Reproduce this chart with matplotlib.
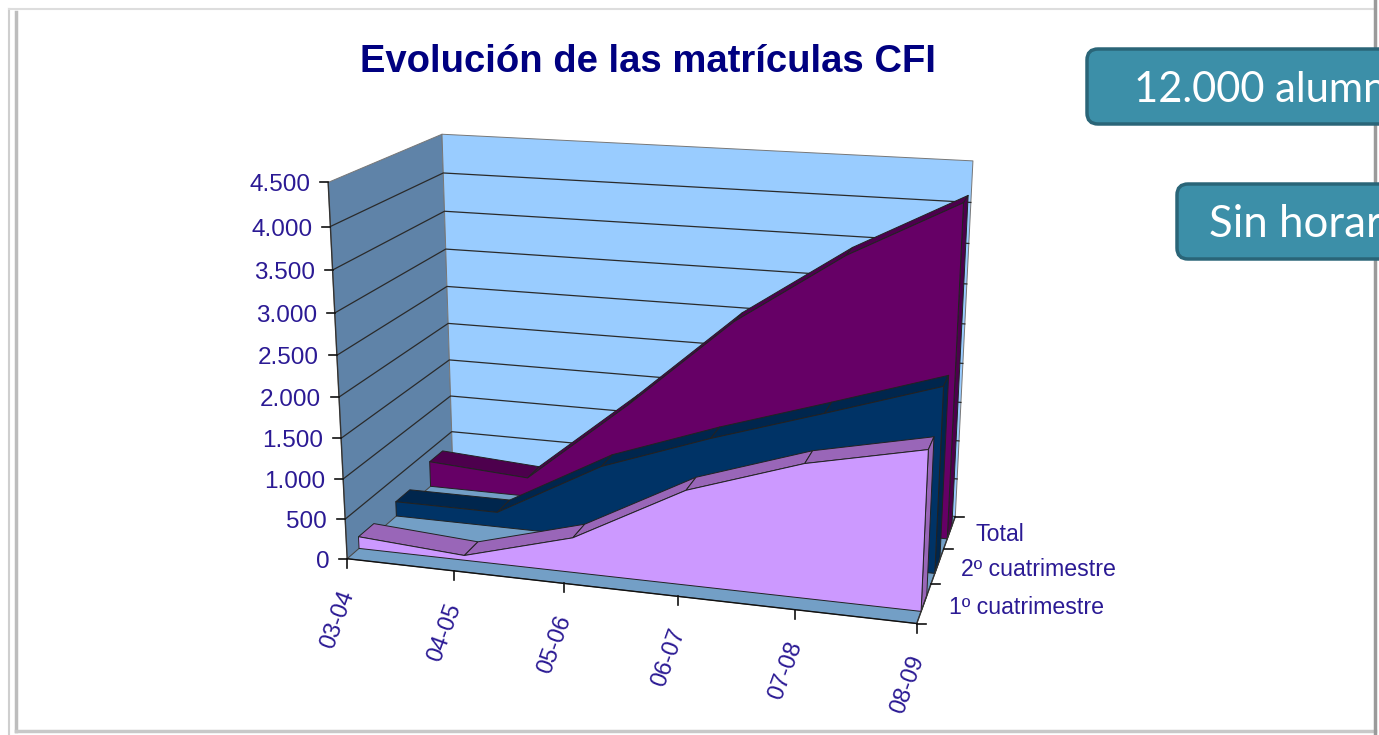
# plot.py - "Evolucion de las matriculas CFI", 3D area chart drawn on a flat axes
import numpy as np
import matplotlib
matplotlib.use("Agg")
import matplotlib.pyplot as plt
from matplotlib.patches import FancyBboxPatch, Polygon

years = ["03-04", "04-05", "05-06", "06-07", "07-08", "08-09"]
series_names = ["1º cuatrimestre", "2º cuatrimestre", "Total"]
primero = [150, 60, 430, 1150, 1600, 1890]
segundo = [190, 190, 920, 1400, 1830, 2270]
total = [340, 250, 1350, 2530, 3440, 4150]
z_ticks = [0, 500, 1000, 1500, 2000, 2500, 3000, 3500, 4000, 4500]
z_labels = ["0", "500", "1.000", "1.500", "2.000", "2.500", "3.000", "3.500", "4.000", "4.500"]

TITLE = "Evolución de las matrículas CFI"
BOX1 = "12.000 alumn"
BOX2 = "Sin horar"

TXT = "#2b1a94"
ZMAX = 4500.0
NX = len(years) - 1
ND = len(series_names)

# camera: box corners (x, depth, z) -> pixels, fitted once
corners = [
    ((0, 0, 0), (347, 558)),
    ((0, 0, 4500), (328, 183)),
    ((0, 0, 2500), (337, 355)),
    ((0, 3, 4500), (442, 134)),
    ((0, 3, 0), (453, 468)),
    ((0, 3, 2500), (447, 286)),
    ((5, 0, 0), (917, 624)),
    ((5, 3, 4500), (973, 161)),
    ((5, 3, 0), (955, 516)),
]
A, b = [], []
for (x, d, z), (u, v) in corners:
    X, Y, Z = x / NX, d / ND, z / ZMAX
    A.append([X, Y, Z, 1, 0, 0, 0, 0, -u * X, -u * Y, -u * Z])
    A.append([0, 0, 0, 0, X, Y, Z, 1, -v * X, -v * Y, -v * Z])
    b += [u, v]
cam = np.linalg.lstsq(np.array(A, float), np.array(b, float), rcond=None)[0]
cam = np.append(cam, 1.0).reshape(3, 4)


def proj(x, d, z):
    w = cam @ np.array([x / NX, d / ND, z / ZMAX, 1.0])
    return w[0] / w[2], w[1] / w[2]


fig = plt.figure(figsize=(13.79, 7.35), dpi=100)
ax = fig.add_axes([0, 0, 1, 1])
ax.set_xlim(0, 1379)
ax.set_ylim(735, 0)
ax.axis("off")


def face(pts, color, edge="#222222", lw=0.7, zorder=3):
    ax.add_patch(Polygon([proj(*p) for p in pts], closed=True, facecolor=color,
                         edgecolor=edge, linewidth=lw, joinstyle="round", zorder=zorder))


# slide frame
ax.plot([9, 9], [9, 735], color="#cfcfcf", lw=1.5)
ax.plot([16, 16], [12, 731], color="#bdbdbd", lw=2.5)
ax.plot([9, 1375], [9, 9], color="#dddddd", lw=1.5)
ax.plot([16, 1375], [731, 731], color="#c8c8c8", lw=2.5)
ax.plot([1375, 1375], [0, 735], color="#9a9a9a", lw=2.5)

# walls and floor
face([(0, 0, 0), (0, 3, 0), (0, 3, ZMAX), (0, 0, ZMAX)], "#5f83a8", "#777777", zorder=1)
face([(0, 3, 0), (5, 3, 0), (5, 3, ZMAX), (0, 3, ZMAX)], "#99ccff", "#777777", zorder=1)
face([(0, 0, 0), (5, 0, 0), (5, 3, 0), (0, 3, 0)], "#739fc6", "#444444", zorder=1)

# gridlines
for z in z_ticks[1:-1]:
    ax.plot(*zip(proj(0, 0, z), proj(0, 3, z), proj(5, 3, z)), color="#2a2a2a", lw=0.9, zorder=2)

# series, back to front
styles = [("#cc99ff", "#9966b8"), ("#003366", "#00264d"), ("#660066", "#4d004d")]
values = [primero, segundo, total]
for i in [2, 1, 0]:
    vals = values[i]
    front_col, top_col = styles[i]
    d0, d1 = i + 0.3, i + 0.7
    for k in range(NX):
        face([(k, d0, vals[k]), (k + 1, d0, vals[k + 1]),
              (k + 1, d1, vals[k + 1]), (k, d1, vals[k])], top_col)
    face([(NX, d0, 0), (NX, d1, 0), (NX, d1, vals[-1]), (NX, d0, vals[-1])], top_col)
    pts = [(0, d0, 0)] + [(k, d0, vals[k]) for k in range(NX + 1)] + [(NX, d0, 0)]
    face(pts, front_col)

# axis lines and ticks
ax.plot(*zip(proj(0, 0, 0), proj(0, 0, ZMAX)), color="#333333", lw=1, zorder=4)
ax.plot(*zip(proj(0, 0, 0), proj(5, 0, 0)), color="#111111", lw=1, zorder=4)
ax.plot(*zip(proj(5, 0, 0), proj(5, 3, 0)), color="#333333", lw=1, zorder=4)
for z, lab in zip(z_ticks, z_labels):
    u, v = proj(0, 0, z)
    ax.plot([u - 8, u], [v, v], color="#111111", lw=1.2, zorder=4)
    ax.text(u - 18, v + 3, lab, ha="right", va="center", color=TXT,
            family="Liberation Sans", fontsize=17.5)
for k, lab in enumerate(years):
    u, v = proj(k, 0, 0)
    ax.plot([u, u], [v, v + 9], color="#111111", lw=1.2, zorder=4)
    ax.text(u + 1, v + 33, lab, ha="right", va="center", rotation=70, rotation_mode="anchor",
            color=TXT, family="Liberation Sans", fontsize=17)
for d in range(ND + 1):
    u, v = proj(NX, d, 0)
    ax.plot([u, u + 9], [v, v], color="#111111", lw=1.2, zorder=4)
label_x = [949, 961, 975]
for d, lab in enumerate(series_names):
    u, v = proj(NX, d + 0.5, 0)
    ax.text(label_x[d], v + 4 - d, lab, ha="left", va="center", color=TXT,
            family="Liberation Sans", fontsize=16.7)

ax.text(648, 62, TITLE, ha="center", va="center", color="#000080", fontweight="bold",
        family="Liberation Sans", fontsize=27.5)

# callouts, cut off by the slide edge
for x0, y0, y1, lab, tx, fs in [(1087, 49, 124, BOX1, 1134, 30), (1177, 184, 259, BOX2, 1209, 31.5)]:
    ax.add_patch(FancyBboxPatch((x0, y0), 500, y1 - y0, boxstyle="round,pad=0,rounding_size=11",
                                facecolor="#3c8fa8", edgecolor="#2a6578", linewidth=2.5, zorder=5))
    ax.text(tx, (y0 + y1) / 2 + 3, lab, ha="left", va="center", color="white",
            family="Lato", fontsize=fs, zorder=6)

fig.savefig("out.png", dpi=100)
